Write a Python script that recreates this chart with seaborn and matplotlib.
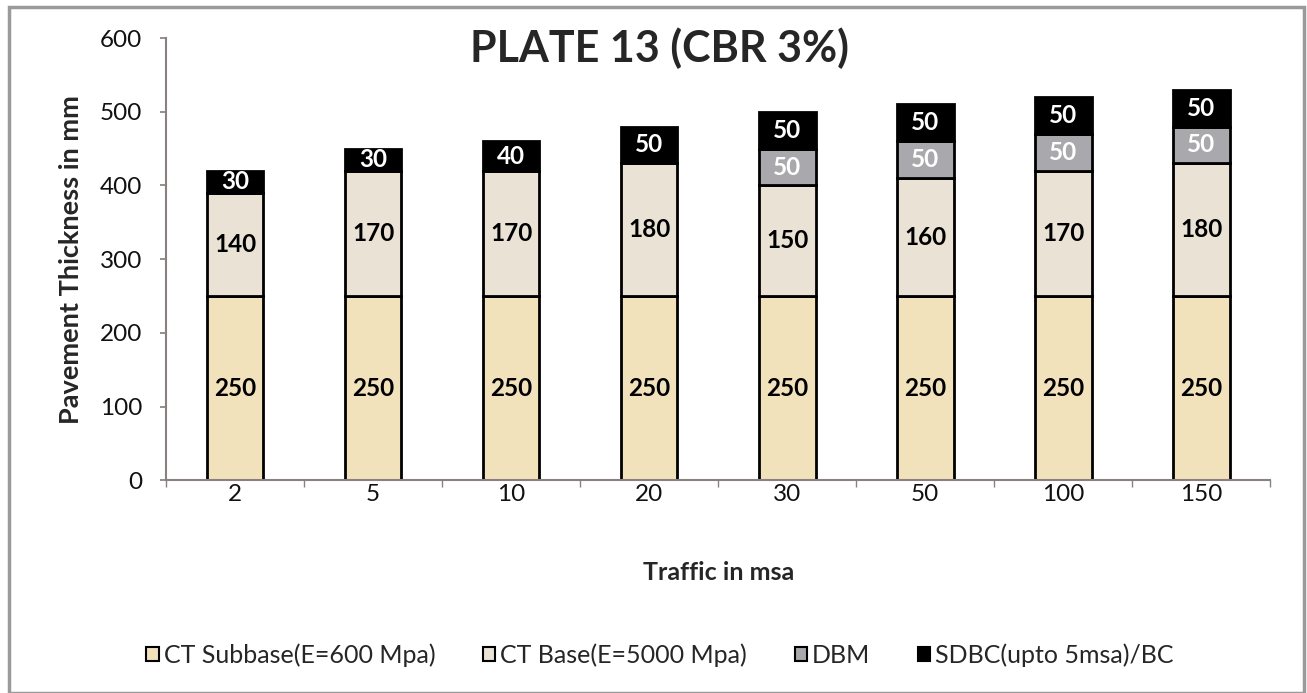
import matplotlib
matplotlib.use("Agg")
import matplotlib.pyplot as plt
import seaborn as sns
import pandas as pd
from matplotlib.patches import Patch, Rectangle

# Values
traffic = ["2", "5", "10", "20", "30", "50", "100", "150"]
ct_subbase = [250, 250, 250, 250, 250, 250, 250, 250]
ct_base = [140, 170, 170, 180, 150, 160, 170, 180]
dbm = [0, 0, 0, 0, 50, 50, 50, 50]
sdbc = [30, 30, 40, 50, 50, 50, 50, 50]

layer_names = ["CT Subbase(E=600 Mpa)", "CT Base(E=5000 Mpa)", "DBM", "SDBC(upto 5msa)/BC"]
layer_colors = ["#F2E2BC", "#E9E2D5", "#A9A8AC", "#000000"]
label_colors = ["black", "black", "white", "white"]

sns.set_theme(style="white")
plt.rcParams["font.family"] = ["Lato", "DejaVu Sans"]

fig = plt.figure(figsize=(13.07, 6.93), dpi=100)
ax = fig.add_axes([0.127, 0.307, 0.845, 0.638])

layers = [ct_subbase, ct_base, dbm, sdbc]
bottom = [0] * len(traffic)
for values, name, color, tcolor in zip(layers, layer_names, layer_colors, label_colors):
    df = pd.DataFrame({"traffic": traffic, "value": values, "bottom": bottom})
    df = df[df["value"] > 0]
    n_before = len(ax.containers)
    sns.barplot(data=df, x="traffic", y="value", order=traffic, color=color,
                bottom=df["bottom"].values, width=0.41, edgecolor="black",
                linewidth=2, saturation=1, ax=ax)
    if len(ax.containers) > n_before:
        ax.bar_label(ax.containers[-1], label_type="center", color=tcolor,
                     fontsize=17.5, fontweight="bold")
    bottom = [b + v for b, v in zip(bottom, values)]

ax.set_ylim(0, 600)
ax.set_xlim(-0.5, len(traffic) - 0.5)
ax.set_yticks(range(0, 601, 100))
ax.tick_params(axis="both", labelsize=17.5, colors="#111111")
ax.tick_params(axis="y", left=True, length=4, color="#8a8080", pad=13)
ax.set_xticks(range(len(traffic)))
ax.set_xticks([i - 0.5 for i in range(len(traffic) + 1)], minor=True)
ax.tick_params(axis="x", which="major", bottom=False, pad=-3)
ax.tick_params(axis="x", which="minor", bottom=True, length=5, color="#8a8080")

for side in ["top", "right"]:
    ax.spines[side].set_visible(False)
for side in ["left", "bottom"]:
    ax.spines[side].set_color("#8a8080")
    ax.spines[side].set_linewidth(1.5)

ax.set_xlabel("Traffic in msa", fontsize=18, fontweight="bold", labelpad=40)
ax.set_ylabel("Pavement Thickness in mm", fontsize=19.5, fontweight="bold", labelpad=12)
fig.text(659 / 1307, 1 - 48 / 693, "PLATE 13 (CBR 3%)", fontsize=31,
         fontweight="bold", ha="center", va="center")

handles = [Patch(facecolor=c, edgecolor="black", linewidth=1.5) for c in layer_colors]
fig.legend(handles, layer_names, loc="center", bbox_to_anchor=(660 / 1307, 1 - 655 / 693),
           ncol=4, frameon=False, fontsize=18, handlelength=0.5, handleheight=0.5,
           handletextpad=0.2, columnspacing=1.9)

# grey frame around the whole chart
fig.patches.append(Rectangle((9 / 1307, 0.0), 1295 / 1307, 686 / 693,
                             transform=fig.transFigure, fill=False,
                             edgecolor="#9a9a9a", linewidth=2.5))

fig.savefig("out.png", dpi=100)
